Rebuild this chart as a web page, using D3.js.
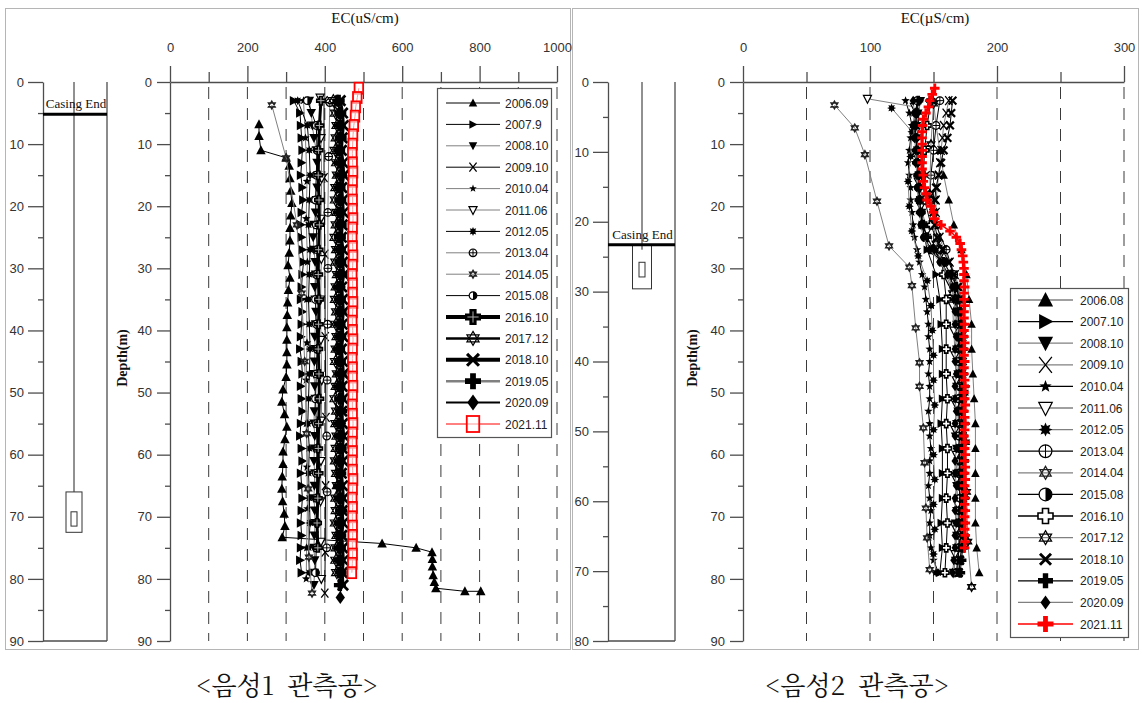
<!DOCTYPE html>
<html><head><meta charset="utf-8">
<script src="https://cdn.jsdelivr.net/npm/d3@7"></script>
<style>body{margin:0;background:#fff}svg{display:block}</style>
</head><body>
<svg id="c" width="1142" height="703"></svg>
<script>
// ---------------- DATA ----------------
const ecTicksL = [0,200,400,600,800,1000];
const ecMinorL = [100,300,500,700,900];
const gridL = [100,200,300,400,500,600,700,800,900,1000];
const ecTicksR = [0,100,200,300];
const ecMinorR = [50,150,250];
const gridR = [50,100,150,200,250,300];
const depthTicks = [0,10,20,30,40,50,60,70,80,90];
const depthMinor = [5,15,25,35,45,55,65,75,85];
const casingTicksR = [0,10,20,30,40,50,60,70,80];
const casingMinorR = [5,15,25,35,45,55,65,75];

const labelsL = ['2006.09','2007.9','2008.10','2009.10','2010.04','2011.06','2012.05','2013.04','2014.05','2015.08','2016.10','2017.12','2018.10','2019.05','2020.09','2021.11'];
const labelsR = ['2006.08','2007.10','2008.10','2009.10','2010.04','2011.06','2012.05','2013.04','2014.04','2015.08','2016.10','2017.12','2018.10','2019.05','2020.09','2021.11'];

// casing (depth, m): casing end, screen top, screen bottom, inner top, inner bottom
const casingL = [5.2, 66, 72.5, 69.2, 71.5];
const casingR = [23.3, 23.3, 29.6, 25.8, 27.9];

// left well (음성1)
const depthsL2 = [3,5,7,9,11,13,15,17,19,21,23,25,27,29,31,33,35,37,39,41,43,45,47,49,51,53,55,57,59,61,63,65,67,69,71,73,75,77,79,81];
const depthsL4 = [3,7,11,15,19,23,27,31,35,39,43,47,51,55,59,63,67,71,75,79];
const depthL_2006 = [6.8,8.7,11,12.2,13.5,15.5,17.5,19.5,21.5,23.5,25.5,27.5,29.5,31.5,33.5,35.5,37.5,39.5,41.5,43.5,45.5,47.5,49.5,51.5,53.5,55.5,57.5,59.5,61.5,63.5,65.5,67.5,69.5,71.5,73.3,74.3,75,75.7,76.8,78,79.4,80.5,81.5,82,82];
const ecL_2006 = [230,230,235,300,308,310,312,315,312,310,310,308,305,310,306,304,303,302,302,302,302,300,292,289,296,302,297,292,292,290,289,291,295,297,290,548,636,677,678,678,680,683,687,762,803];
const ecL_2007 = [320,336,338,340,342,340,338,342,344,340,338,340,342,345,342,340,338,342,340,338,336,340,342,338,340,342,338,336,340,342,338,340,342,340,338,340,338,336,340,null];
const ecL_2008 = [360,365,368,372,378,380,382,380,378,376,372,370,372,375,376,374,375,377,376,374,375,373,372,374,375,373,372,374,373,372,374,373,372,374,375,373,372,374,373,372];
const depthL_2009 = [3,15.4,27.7,41,54,65,75.7,82.3];
const ecL_2009 = [398,398,400,401,403,402,401,400];
const depthL_2010 = [3,9,16,22,29,35,42,48,55,62,68.7,75,80];
const ecL_2010 = [345,350,354,352,355,353,354,352,352,354,355,353,352];
const depthL_2011 = [2.5,9,15.5,22,28.5,35,41.5,48,54.5,61,67.5,74,80];
const ecL_2011 = [388,390,392,390,391,389,390,392,391,390,389,390,391];
const ecL_2012 = [330,355,360,362,360,358,362,360,358,360,362,360,358,356,360,358,360,362,358,360];
const depthL_2013 = [3.3,12,21,30,39,48,57,66,75];
const ecL_2013 = [413,410,408,408,407,406,405,406,405];
const depthL_2014 = [3.7,12.2,23,34,45,56.6,65.5,76.5,82.3];
const ecL_2014 = [263,300,328,340,348,353,357,359,367];
const ecL_2015 = [355,378,380,378,376,378,380,378,376,378,380,378,376,378,380,378,379,380,378,376];
const ecL_2016 = [390,386,384,383,385,386,384,383,385,384,383,385,386,384,383,384,382,380,382,null];
const ecL_2017 = [422,428,432,430,427,431,433,429,428,432,430,427,431,429,433,430,428,431,429,432,430,428,433,430,427,431,429,432,430,428,431,433,429,430,428,432,430,429,431,null];
const ecL_2018 = [440,446,448,445,443,447,449,444,446,448,445,443,447,446,449,444,446,448,445,447,443,446,448,445,447,444,446,449,445,447,443,446,448,445,447,444,446,448,445,447];
const ecL_2019 = [436,440,438,441,437,439,442,438,440,437,441,439,438,440,442,437,439,441,438,440,437,439,441,438,440,442,437,439,441,438,440,437,439,442,438,440,439,437,441,439];
const depthL_2020 = [3,5,7,9,11,13,15,17,19,21,23,25,27,29,31,33,35,37,39,41,43,45,47,49,51,53,55,57,59,61,63,65,67,69,71,73,75,77,79,81,83];
const ecL_2020 = [434,438,442,440,437,441,443,439,440,442,438,441,443,440,438,442,440,437,441,443,439,440,442,438,441,440,443,439,441,438,442,440,439,441,443,440,438,442,440,441,440];
const depthL_2021 = [1,2.5,4,5.5,7,8.5,10,11.5,13,14.5,16,17.5,19,20.5,22,23.5,25,26.5,28,29.5,31,32.5,34,35.5,37,38.5,40,41.5,43,44.5,46,47.5,49,50.5,52,53.5,55,56.5,58,59.5,61,62.5,64,65.5,67,68.5,70,71.5,73,74.5,76,77.5,79];
const ecL_2021 = [488,484,480,478,475,473,472,471,472,473,472,471,472,472,473,472,471,472,473,472,471,472,472,473,472,471,472,473,472,471,472,472,473,472,471,472,473,472,471,472,471,472,473,472,471,472,471,472,472,471,472,471,470];

// right well (음성2)
const depthsR2 = [3,5,7,9,11,13,15,17,19,21,23,25,27,29,31,33,35,37,39,41,43,45,47,49,51,53,55,57,59,61,63,65,67,69,71,73,75,77,79];
const depthsR4 = [3,7,11,15,19,23,27,31,35,39,43,47,51,55,59,63,67,71,75,79];
const ecR_2006 = [150,152,155,158,162,166,172,176,178,180,180,181,182,183,183,183,183,183,184,186];
const ecR_2007 = [139,138,137,138,139,141,145,152,155,156,157,157,157,156,157,157,157,156,157,155];
const ecR_2008 = [140,138,137,137,138,138,139,139,140,141,142,145,150,158,163,166,167,168,168,169,168,168,169,168,168,169,168,167,168,169,168,168,169,168,167,168,168,167,166];
const ecR_2009 = [162,160,158,157,156,155,154,153,152,152,153,155,158,163,167,170,171,172,172,173,172,172,173,172,172,171,172,173,172,172,171,172,173,172,172,171,172,171,170];
const ecR_2010 = [128,131,133,132,131,130,131,132,132,133,134,135,137,139,141,143,144,145,146,146,147,147,146,147,147,146,147,147,148,147,147,146,147,148,147,147,148,150,154];
const depthR_2011 = [2.7,4,8,12,16,20,24,28,32,36,40,44,48,52,56,60,64,68,72,76,79];
const ecR_2011 = [98,135,136,137,138,140,145,155,162,165,166,167,168,168,167,168,168,169,168,167,166];
const depthR_2012 = [4.2,8,12,16,20,24,28,32,36,40,44,48,52,56,60,64,68,72,76,79];
const ecR_2012 = [117,133,132,130,131,133,138,145,148,149,150,150,151,150,150,151,150,151,150,152];
const ecR_2013 = [155,152,150,148,147,152,160,166,168,170,170,171,170,170,171,170,171,170,170,169];
const depthR_2014 = [3.7,7.4,11.7,19.2,26.4,29.8,32.8,39.6,45.2,49,55.7,61.3,68.6,73.4,78.5];
const ecR_2014 = [72,88,96,105.5,115,131,133,136,139,139,142,143,144,145,147];
const ecR_2015 = [137,136,135,136,137,137,138,138,139,140,141,143,148,156,162,166,168,169,170,170,171,170,170,171,170,170,171,170,170,171,170,170,171,170,170,171,170,169,168];
const ecR_2016 = [148,145,143,142,143,148,155,158,160,160,160,160,161,160,161,161,160,161,160,159];
const depthR_2017 = [3.5,10,18,26,34,42,50,58,66,74,81.3];
const ecR_2017 = [150,148,147,152,165,172,174,175,176,177,180];
const ecR_2018 = [165,164,163,161,158,156,154,152,151,150,151,153,157,162,166,169,170,171,172,172,172,173,172,172,173,172,172,173,172,172,171,172,173,172,172,171,172,171,170];
const ecR_2019 = [138,137,136,136,137,137,138,139,139,140,142,145,150,158,164,168,170,171,172,173,173,172,173,174,173,173,174,173,173,174,173,173,174,173,173,174,173,172,171];
const ecR_2020 = [134,135,134,135,136,136,137,137,138,139,140,142,147,155,161,165,166,167,167,168,167,167,168,167,167,168,167,167,168,167,167,168,167,167,168,167,167,166,165];
const depthR_2021 = [1,2,3,4,5,6,7,8,9,10,11,12,13,14,15,16,17,18,19,20,21,22,23,24,25,26,27,28,29,30,31,32,33,34,35,36,37,38,39,40,41,42,43,44,45,46,47,48,49,50,51,52,53,54,55,56,57,58,59,60,61,62,63,64,65,66,67,68,69,70,71,72,73,74,75];
const ecR_2021 = [151,149,147,146,144,142,141.5,141,141,141,141,141,141,141,142,142,143,144,145,148,150,151,156,163,168,171,172,173,173.5,174,174,174,174.5,174,174,174.5,174,174,174.5,174,174,174.5,174,174,174.5,174,174,174.5,175,174,174.5,175,174,174.5,175,174.5,174,175,174.5,175,174.5,175,174.5,175,174.5,175,175,174.5,175,174.5,175,174.5,175,175,174.5];

// ---------------- STYLE ----------------
const AX = '#4d4d4d';
const SANS = "'Liberation Sans', Arial, sans-serif";
const SERIF = "'Liberation Serif', 'Times New Roman', serif";
const G = '#808080';

const seriesL = [
  {d: depthL_2006, v: ecL_2006}, {d: depthsL2, v: ecL_2007}, {d: depthsL2, v: ecL_2008},
  {d: depthL_2009, v: ecL_2009}, {d: depthL_2010, v: ecL_2010}, {d: depthL_2011, v: ecL_2011},
  {d: depthsL4, v: ecL_2012}, {d: depthL_2013, v: ecL_2013}, {d: depthL_2014, v: ecL_2014},
  {d: depthsL4, v: ecL_2015}, {d: depthsL4, v: ecL_2016}, {d: depthsL2, v: ecL_2017},
  {d: depthsL2, v: ecL_2018}, {d: depthsL2, v: ecL_2019}, {d: depthL_2020, v: ecL_2020},
  {d: depthL_2021, v: ecL_2021}
];
const markL = ['triUp','triRight','triDown','x','star5','triDownOpen','star8','circlePlus','davidSmall','halfCircle','fatCrossGray','davidOpen','thickX','plus','diamond','squareRed'];
const colL = ['#000','#000',G,'#000',G,G,'#000',G,G,'#000','#000','#000','#000',G,'#000','#ff0000'];
const lwL = [1,1,1,1,1,1,1,1,1,1,3,2,3,2,1.5,1];
const rL = [5,5,5,4.5,4.5,4.5,4.5,4.5,4,4.5,5,6,6,6,6.5,5.5];
const rLegL = [4.5,4.5,4.5,4.5,4,4.5,4.5,4.5,4,4.5,8,7,7,8,8,8];

const seriesR = [
  {d: depthsR4, v: ecR_2006}, {d: depthsR4, v: ecR_2007}, {d: depthsR2, v: ecR_2008},
  {d: depthsR2, v: ecR_2009}, {d: depthsR2, v: ecR_2010}, {d: depthR_2011, v: ecR_2011},
  {d: depthR_2012, v: ecR_2012}, {d: depthsR4, v: ecR_2013}, {d: depthR_2014, v: ecR_2014},
  {d: depthsR2, v: ecR_2015}, {d: depthsR4, v: ecR_2016}, {d: depthR_2017, v: ecR_2017},
  {d: depthsR2, v: ecR_2018}, {d: depthsR2, v: ecR_2019}, {d: depthsR2, v: ecR_2020},
  {d: depthR_2021, v: ecR_2021}
];
const markR = ['triUp','triRight','triDown','x','star5','triDownOpen','star8','circlePlus','davidSmall','halfCircle','fatCrossWhite','davidOpen','thickX','plus','diamond','plusRed'];
const colR = [G,'#000',G,G,'#000',G,G,'#000',G,'#000','#000',G,'#000','#000',G,'#ff0000'];
const lwR = [1,1,1,1,1,1,1,1,1,1,1,1,1,1,1,1.5];
const rR = [4.5,4.5,4.5,4.5,4.5,4.5,4.5,4.5,4,4.5,4,4.5,4.5,5,5,4.8];
const rLegR = [8,8,8,8,6.5,7.5,7,7.5,6.5,7.5,7.5,7,6.5,7.5,7,8];

// ---------------- DRAW ----------------
const svg = d3.select('#c');

function starPath(n, r, ri) {
  let s = '';
  for (let k = 0; k < 2*n; k++) {
    const a = -Math.PI/2 + k*Math.PI/n;
    const rr = k % 2 ? ri : r;
    s += (k ? 'L' : 'M') + (rr*Math.cos(a)).toFixed(2) + ',' + (rr*Math.sin(a)).toFixed(2);
  }
  return s + 'Z';
}
function crossPath(r, a) {
  return `M${-a},${-r}H${a}V${-a}H${r}V${a}H${a}V${r}H${-a}V${a}H${-r}V${-a}H${-a}Z`;
}
function marker(g, type, x, y, r) {
  const t = g.append('g').attr('transform', `translate(${x},${y})`);
  const p = () => t.append('path');
  switch (type) {
    case 'triUp': p().attr('d', `M0,${-r}L${0.95*r},${0.8*r}L${-0.95*r},${0.8*r}Z`).attr('fill','#000'); break;
    case 'triRight': p().attr('d', `M${r},0L${-0.8*r},${-0.95*r}L${-0.8*r},${0.95*r}Z`).attr('fill','#000'); break;
    case 'triDown': p().attr('d', `M0,${r}L${0.95*r},${-0.8*r}L${-0.95*r},${-0.8*r}Z`).attr('fill','#000'); break;
    case 'triDownOpen': p().attr('d', `M0,${r}L${0.9*r},${-0.75*r}L${-0.9*r},${-0.75*r}Z`).attr('fill','#fff').attr('stroke','#000').attr('stroke-width',1.2); break;
    case 'x': p().attr('d', `M${-r*0.8},${-r}L${r*0.8},${r}M${r*0.8},${-r}L${-r*0.8},${r}`).attr('stroke','#000').attr('stroke-width',1.3); break;
    case 'thickX': p().attr('d', `M${-r*0.85},${-r*0.85}L${r*0.85},${r*0.85}M${r*0.85},${-r*0.85}L${-r*0.85},${r*0.85}`).attr('stroke','#000').attr('stroke-width',Math.max(2.2, r*0.45)); break;
    case 'star5': p().attr('d', starPath(5, r, r*0.42)).attr('fill','#000'); break;
    case 'star8': p().attr('d', starPath(8, r, r*0.55)).attr('fill','#000'); break;
    case 'circlePlus':
      t.append('circle').attr('r', r*0.85).attr('fill','#fff').attr('stroke','#000').attr('stroke-width',1.2);
      p().attr('d', `M${-r*0.85},0H${r*0.85}M0,${-r*0.85}V${r*0.85}`).attr('stroke','#000').attr('stroke-width',1); break;
    case 'halfCircle':
      t.append('circle').attr('r', r*0.85).attr('fill','#fff').attr('stroke','#000').attr('stroke-width',1.2);
      p().attr('d', `M0,${-r*0.85}A${r*0.85},${r*0.85} 0 0 1 0,${r*0.85}Z`).attr('fill','#000'); break;
    case 'davidSmall':
    case 'davidOpen': {
      const d = `M0,${-r}L${0.87*r},${0.5*r}L${-0.87*r},${0.5*r}ZM0,${r}L${0.87*r},${-0.5*r}L${-0.87*r},${-0.5*r}Z`;
      p().attr('d', d).attr('fill','#fff').attr('stroke', type==='davidSmall' ? '#222' : '#000').attr('stroke-width', type==='davidSmall' ? 1.3 : 1.2); break;
    }
    case 'fatCrossGray':
      p().attr('d', crossPath(r, r*0.45)).attr('fill','#000');
      p().attr('d', `M${-r*0.7},0H${r*0.7}M0,${-r*0.7}V${r*0.7}`).attr('stroke','#aaa').attr('stroke-width',1); break;
    case 'fatCrossWhite': p().attr('d', crossPath(r, r*0.4)).attr('fill','#fff').attr('stroke','#000').attr('stroke-width',1.6); break;
    case 'plus': p().attr('d', crossPath(r, r*0.36)).attr('fill','#000'); break;
    case 'plusRed': p().attr('d', crossPath(r, r*0.3)).attr('fill','#ff0000'); break;
    case 'diamond': p().attr('d', `M0,${-r}L${0.72*r},0L0,${r}L${-0.72*r},0Z`).attr('fill','#000'); break;
    case 'squareRed': t.append('rect').attr('x', -r*0.78).attr('y', -r).attr('width', r*1.56).attr('height', r*2).attr('fill','#fff').attr('fill-opacity',0.6).attr('stroke','#ff0000').attr('stroke-width',1.8); break;
  }
}

function styleAxis(sel, size) {
  sel.selectAll('path.domain').attr('stroke', AX).attr('stroke-width', 1.3);
  sel.selectAll('.tick line').attr('stroke', AX).attr('stroke-width', 1.3);
  sel.selectAll('.tick text').attr('fill', '#333').style('font-family', SANS).style('font-size', (size||13)+'px');
}

function casing(g, y, axisX, rightX, cx, ticks, minor, c, boxW, innerW, lineEnd) {
  const ax = g.append('g').attr('transform', `translate(${axisX},0)`)
    .call(d3.axisLeft(y).tickValues(ticks).tickSize(15).tickPadding(4).tickSizeOuter(0));
  styleAxis(ax);
  const am = g.append('g').attr('transform', `translate(${axisX},0)`)
    .call(d3.axisLeft(y).tickValues(minor).tickSize(5).tickFormat(''));
  am.select('path.domain').remove(); styleAxis(am);
  const [y0, y1] = y.range();
  g.append('line').attr('x1', rightX).attr('x2', rightX).attr('y1', y0).attr('y2', y1).attr('stroke', AX).attr('stroke-width', 1.3);
  g.append('line').attr('x1', axisX).attr('x2', rightX).attr('y1', y1).attr('y2', y1).attr('stroke', AX).attr('stroke-width', 1.3);
  g.append('line').attr('x1', cx).attr('x2', cx).attr('y1', y0).attr('y2', y(lineEnd)).attr('stroke', '#222').attr('stroke-width', 1);
  g.append('rect').attr('x', cx - boxW/2).attr('y', y(c[1])).attr('width', boxW).attr('height', y(c[2]) - y(c[1])).attr('fill', 'none').attr('stroke', '#333').attr('stroke-width', 1);
  g.append('rect').attr('x', cx - innerW/2).attr('y', y(c[3])).attr('width', innerW).attr('height', y(c[4]) - y(c[3])).attr('fill', 'none').attr('stroke', '#333').attr('stroke-width', 1);
  g.append('line').attr('x1', axisX).attr('x2', rightX).attr('y1', y(c[0])).attr('y2', y(c[0])).attr('stroke', '#000').attr('stroke-width', 3);
  g.append('text').attr('x', (axisX + rightX)/2 + 1).attr('y', y(c[0]) - 6).attr('text-anchor', 'middle')
    .style('font-family', SERIF).style('font-size', '13px').attr('fill', '#111').text('Casing End');
}

function panel(P) {
  const g = svg.append('g');
  const x = P.x, y = P.y;
  g.selectAll(null).data(P.grid).enter().append('line')
    .attr('x1', d => x(d)).attr('x2', d => x(d)).attr('y1', 87).attr('y2', 641)
    .attr('stroke', '#3a3a3a').attr('stroke-width', 1).attr('stroke-dasharray', '12,9');
  const ta = g.append('g').attr('transform', `translate(0,${y(0)})`)
    .call(d3.axisTop(x).tickValues(P.ticks).tickSize(16).tickPadding(14).tickSizeOuter(0).tickFormat(d3.format('d')));
  styleAxis(ta);
  const tm = g.append('g').attr('transform', `translate(0,${y(0)})`)
    .call(d3.axisTop(x).tickValues(P.minor).tickSize(10).tickFormat(''));
  tm.select('path.domain').remove(); styleAxis(tm);
  const la = g.append('g').attr('transform', `translate(${x(0)},0)`)
    .call(d3.axisLeft(y).tickValues(depthTicks).tickSize(13).tickPadding(5).tickSizeOuter(0));
  styleAxis(la);
  const lm = g.append('g').attr('transform', `translate(${x(0)},0)`)
    .call(d3.axisLeft(y).tickValues(depthMinor).tickSize(5).tickFormat(''));
  lm.select('path.domain').remove(); styleAxis(lm);
  g.append('text').attr('x', P.titleX).attr('y', 23).attr('text-anchor', 'middle')
    .style('font-family', SERIF).style('font-size', '15px').attr('fill', '#111').text(P.title);
  g.append('text').attr('transform', `translate(${P.depthLabelX},358) rotate(-90)`).attr('text-anchor', 'middle')
    .style('font-family', SERIF).style('font-size', '14px').style('font-weight', 'bold').attr('fill', '#111').text('Depth(m)');
  const line = d3.line().x(q => x(q[1])).y(q => y(q[0]));
  P.series.forEach((s, i) => {
    const pts = s.d.map((dv, j) => [dv, s.v[j]]).filter(q => q[1] != null);
    const sg = g.append('g');
    sg.append('path').attr('d', line(pts)).attr('fill', 'none').attr('stroke', P.col[i]).attr('stroke-width', P.lw[i]);
    pts.forEach(q => marker(sg, P.mark[i], x(q[1]), y(q[0]), P.r[i]));
  });
  const L = P.leg;
  g.append('rect').attr('x', L.x).attr('y', L.y).attr('width', L.w).attr('height', L.h)
    .attr('fill', '#fff').attr('stroke', '#555').attr('stroke-width', 1.2);
  P.labels.forEach((lab, i) => {
    const yy = L.y0 + i * L.dy;
    g.append('line').attr('x1', L.l1).attr('x2', L.l2).attr('y1', yy).attr('y2', yy)
      .attr('stroke', P.col[i]).attr('stroke-width', P.legLw[i]);
    marker(g, P.mark[i], (L.l1 + L.l2)/2, yy, P.rLeg[i]);
    g.append('text').attr('x', L.tx).attr('y', yy + 4.5).style('font-family', SANS).style('font-size', '12px')
      .attr('fill', '#222').text(lab);
  });
}

svg.append('rect').attr('x', 5.5).attr('y', 8.5).attr('width', 565).attr('height', 641).attr('fill', 'none').attr('stroke', '#b5b5b5');
svg.append('rect').attr('x', 572.5).attr('y', 8.5).attr('width', 566).attr('height', 641).attr('fill', 'none').attr('stroke', '#b5b5b5');

const yCL = d3.scaleLinear().domain([0, 90]).range([82, 641]);
const yCR = d3.scaleLinear().domain([0, 80]).range([82, 641]);
casing(svg.append('g'), yCL, 43, 107, 74, depthTicks, depthMinor, casingL, 16, 6, casingL[1]);
casing(svg.append('g'), yCR, 608, 675, 642, casingTicksR, casingMinorR, casingR, 19, 6, 24);

panel({
  x: d3.scaleLinear().domain([0, 1000]).range([170, 557]),
  y: d3.scaleLinear().domain([0, 90]).range([82, 641]),
  ticks: ecTicksL, minor: ecMinorL, grid: gridL,
  title: 'EC(uS/cm)', titleX: 365, depthLabelX: 127,
  series: seriesL, labels: labelsL, mark: markL, col: colL, lw: lwL, r: rL, rLeg: rLegL,
  legLw: [1,1,1,1,1,1,1,1,1,1,4,2.5,4,2.5,2,1],
  leg: {x: 437.5, y: 88.5, w: 114, h: 349, y0: 103, dy: 21.4, l1: 446, l2: 500, tx: 505}
});
panel({
  x: d3.scaleLinear().domain([0, 300]).range([743, 1124]),
  y: d3.scaleLinear().domain([0, 90]).range([82, 641]),
  ticks: ecTicksR, minor: ecMinorR, grid: gridR,
  title: 'EC(µS/cm)', titleX: 935, depthLabelX: 697,
  series: seriesR, labels: labelsR, mark: markR, col: colR, lw: lwR, r: rR, rLeg: rLegR,
  legLw: [1.3,1.3,1.3,1.3,1.3,1.3,1.3,1.3,1.3,1.3,1.3,1.3,1.3,1.3,1.3,1.5],
  leg: {x: 1010.5, y: 288.5, w: 118, h: 349, y0: 300, dy: 21.6, l1: 1018, l2: 1073, tx: 1080}
});

const CJK = "'Noto Serif CJK KR','Noto Sans CJK KR',sans-serif";
svg.append('text').attr('x', 287).attr('y', 695).attr('text-anchor', 'middle').style('white-space', 'pre')
  .style('font-family', CJK).style('font-size', '26px').attr('fill', '#111').text('<음성1  관측공>');
svg.append('text').attr('x', 857).attr('y', 695).attr('text-anchor', 'middle').style('white-space', 'pre')
  .style('font-family', CJK).style('font-size', '26px').attr('fill', '#111').text('<음성2  관측공>');
</script>
</body></html>
